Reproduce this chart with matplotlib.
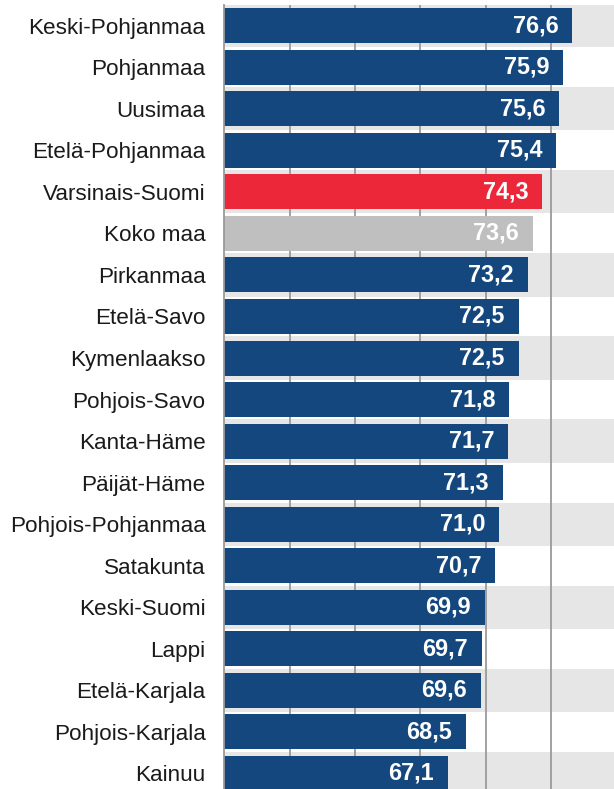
import matplotlib.pyplot as plt

regions = ["Keski-Pohjanmaa", "Pohjanmaa", "Uusimaa", "Etelä-Pohjanmaa",
           "Varsinais-Suomi", "Koko maa", "Pirkanmaa", "Etelä-Savo",
           "Kymenlaakso", "Pohjois-Savo", "Kanta-Häme", "Päijät-Häme",
           "Pohjois-Pohjanmaa", "Satakunta", "Keski-Suomi", "Lappi",
           "Etelä-Karjala", "Pohjois-Karjala", "Kainuu"]
values = [76.6, 75.9, 75.6, 75.4, 74.3, 73.6, 73.2, 72.5, 72.5, 71.8,
          71.7, 71.3, 71.0, 70.7, 69.9, 69.7, 69.6, 68.5, 67.1]
labels = ["76,6", "75,9", "75,6", "75,4", "74,3", "73,6", "73,2", "72,5",
          "72,5", "71,8", "71,7", "71,3", "71,0", "70,7", "69,9", "69,7",
          "69,6", "68,5", "67,1"]

blue = "#13477d"
red = "#ec2739"
grey = "#bfbfbf"

plt.rcParams['font.family'] = ['Liberation Sans', 'DejaVu Sans']

fig = plt.figure(figsize=(6.14, 7.89), dpi=100)
# axes from x=224 px to right edge, y=5 px from top to bottom edge
ax = fig.add_axes([224.3 / 614, 0, 1 - 224.3 / 614, 784 / 789])

xmin, xmax = 50, 79.8
n = len(regions)
ys = list(range(n))
row_px = 41.53

# alternating background stripes
for i in ys:
    if i % 2 == 0:
        ax.barh(i, xmax - xmin, left=xmin, height=1.04, color="#e6e6e6", zorder=0)

for x in [55, 60, 65, 70, 75]:
    ax.axvline(x, color="#9a9a9a", lw=1.3, zorder=1)

colors = []
for r in regions:
    if r == "Varsinais-Suomi":
        colors.append(red)
    elif r == "Koko maa":
        colors.append(grey)
    else:
        colors.append(blue)

ax.barh(ys, [v - xmin for v in values], left=xmin, height=0.843,
        color=colors, zorder=2)

for i, v in enumerate(values):
    ax.annotate(labels[i], (v, i), xytext=(-10, 0), textcoords="offset points",
                ha="right", va="center", color="white", fontsize=16.8,
                fontweight="bold", zorder=3)

ax.set_xlim(xmin, xmax)
ax.set_ylim(-0.5 + 784 / row_px, -0.5)
ax.set_yticks(ys)
ax.set_yticklabels(regions, fontsize=16.2, color="#1a1a1a")
ax.tick_params(axis="y", length=0, pad=13.5)
ax.set_xticks([])
for s in ["top", "right", "bottom"]:
    ax.spines[s].set_visible(False)
ax.spines["left"].set_color("#9a9a9a")
ax.spines["left"].set_linewidth(1.3)

fig.savefig("out.png", dpi=100)
